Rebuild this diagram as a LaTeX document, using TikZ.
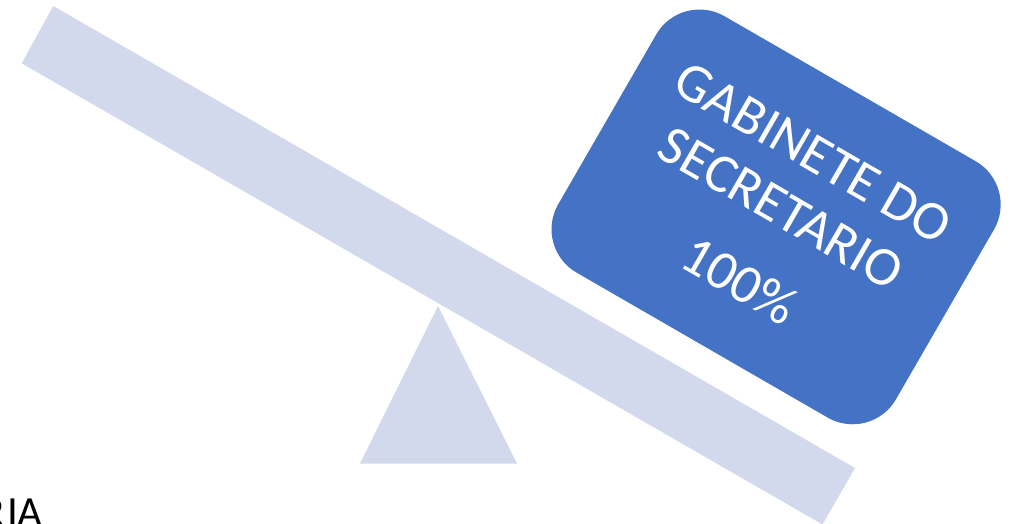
\documentclass[tikz,border=0pt]{standalone}
\usepackage{fontspec}
\setmainfont{Carlito}
\definecolor{barcol}{RGB}{211,217,236}
\definecolor{boxcol}{RGB}{68,114,196}
\tikzset{
  lever/.style={fill=barcol, draw=none},
  weightbox/.style={fill=boxcol, draw=none, rounded corners=50pt, rotate=-30,
     minimum width=390pt, minimum height=296pt, text=white, align=center,
     font=\fontsize{55}{64}\selectfont, inner sep=0pt},
}
\begin{document}
\begin{tikzpicture}[x=1pt,y=-1pt]
\useasboundingbox (0,0) rectangle (1015,524);
\clip (0,0) rectangle (1015,524);
\coordinate (b1) at (53.3,6);
\coordinate (b2) at (855,468);
\coordinate (b3) at (822.5,524.5);
\coordinate (b4) at (21.7,63.3);
\fill[lever] (b1) -- (b2) -- (b3) -- (b4) -- cycle;
\coordinate (apex) at (438,306);
\coordinate (bl) at (360,463.5);
\coordinate (br) at (517,463.5);
\fill[lever] (apex) -- (br) -- (bl) -- cycle;
\node[weightbox] (box) at (776.1,216.9) {GABINETE DO\\SECRETARIO\\[20pt]100\%};
\node[anchor=base east, inner sep=0pt, font=\fontsize{43}{50}\selectfont] (lbl) at (43,526) {R\kern2ptIA};
\end{tikzpicture}
\end{document}
